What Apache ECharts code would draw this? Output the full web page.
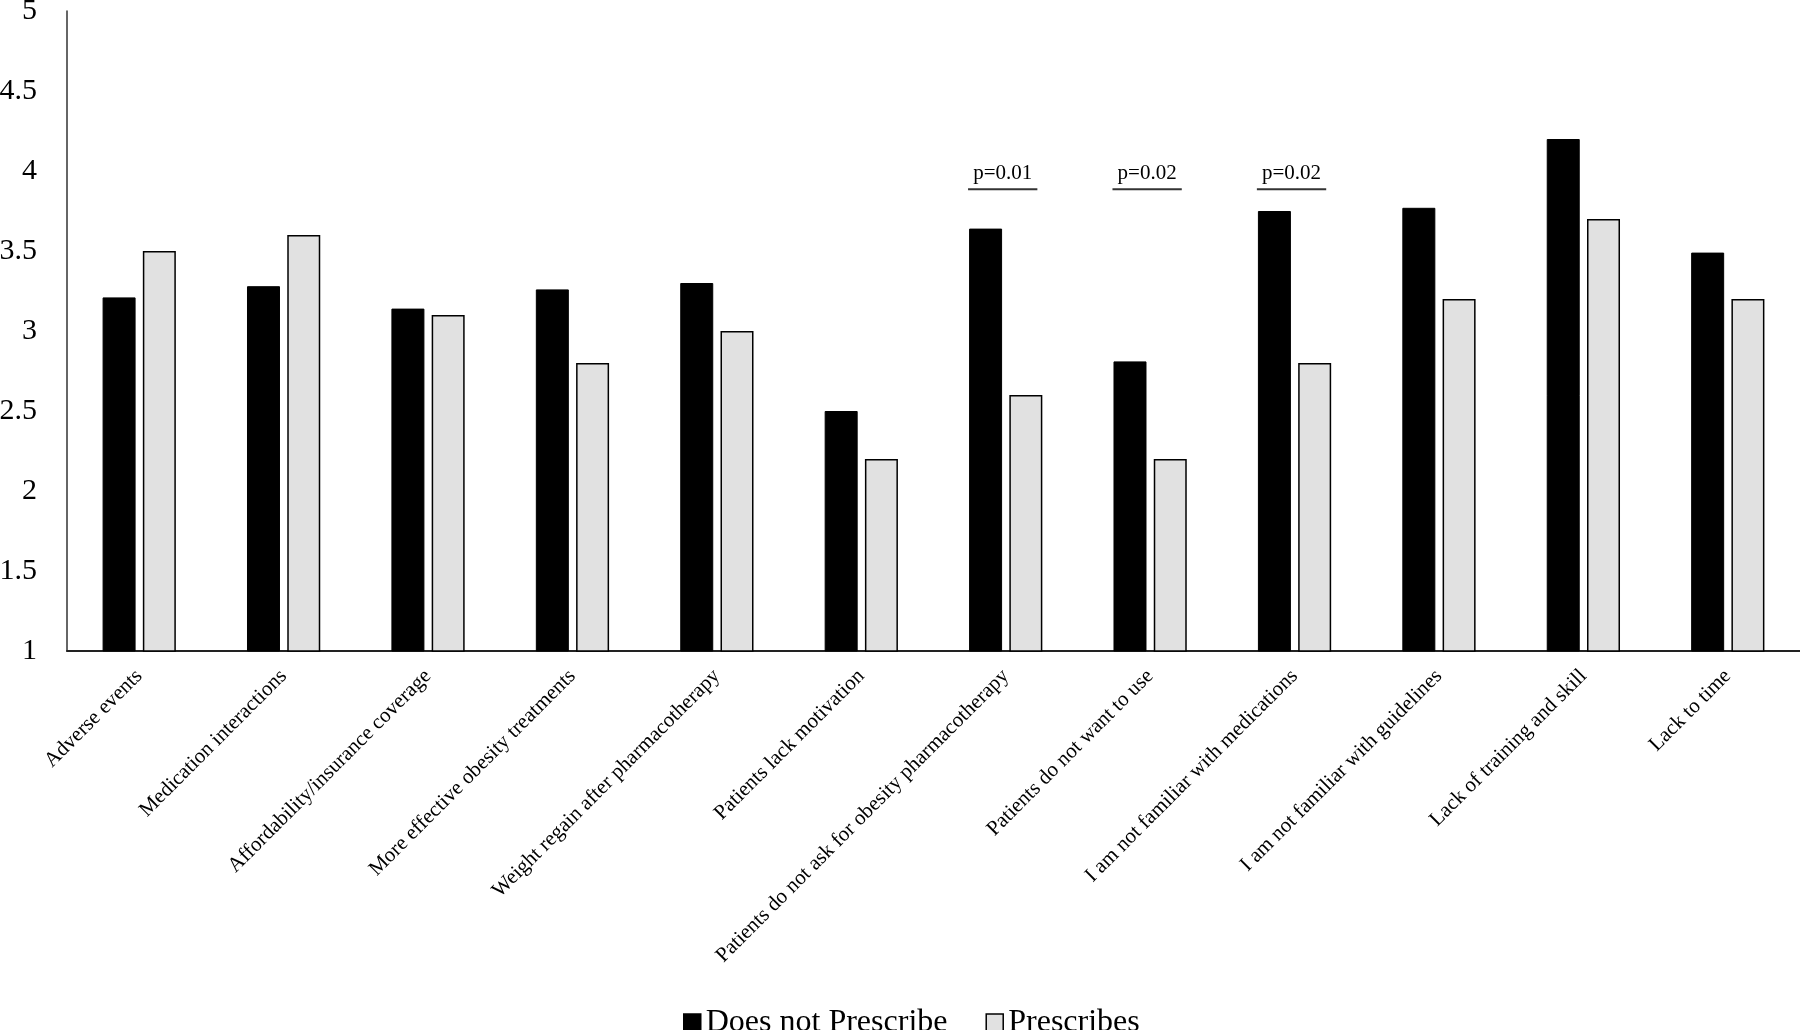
<!DOCTYPE html>
<html>
<head>
<meta charset="utf-8">
<script src="https://cdn.jsdelivr.net/npm/echarts@6/dist/echarts.min.js"></script>
<style>
html,body{margin:0;padding:0;background:#fff;}
#chart{width:1800px;height:1030px;}
</style>
</head>
<body>
<div id="chart"></div>
<script>
const categories = [
  'Adverse events',
  'Medication interactions',
  'Affordability/insurance coverage',
  'More effective obesity treatments',
  'Weight regain after pharmacotherapy',
  'Patients lack motivation',
  'Patients do not ask for obesity pharmacotherapy',
  'Patients do not want to use',
  'I am not familiar with medications',
  'I am not familiar with guidelines',
  'Lack of training and skill',
  'Lack to time'
];
const doesNotPrescribe = [3.21, 3.28, 3.14, 3.26, 3.30, 2.50, 3.64, 2.81, 3.75, 3.77, 4.20, 3.49];
const prescribes       = [3.50, 3.60, 3.10, 2.80, 3.00, 2.20, 2.60, 2.20, 2.80, 3.20, 3.70, 3.20];
const yTicks = [1, 1.5, 2, 2.5, 3, 3.5, 4, 4.5, 5];
const pValues = [
  [6, 3.886, 'p=0.01'],
  [7, 3.886, 'p=0.02'],
  [8, 3.886, 'p=0.02']
];

const FONT = '"Liberation Serif", "Times New Roman", serif';
const chart = echarts.init(document.getElementById('chart'), null, {renderer: 'canvas'});
chart.setOption({
  animation: false,
  backgroundColor: '#ffffff',
  textStyle: {fontFamily: FONT, color: '#000'},
  grid: {left: 67, right: 0, top: 11, bottom: 379, containLabel: false, outerBoundsMode: 'none'},
  legend: {
    left: 678, top: 1002,
    itemWidth: 17, itemHeight: 18, itemGap: 38,
    icon: 'rect',
    textStyle: {fontFamily: FONT, fontSize: 32, color: '#000', padding: [0, 0, 0, 0], lineHeight: 32},
    itemStyle: {borderColor: '#000', borderWidth: 1.5},
    data: ['Does not Prescribe', 'Prescribes']
  },
  xAxis: {
    type: 'category',
    data: categories,
    axisLine: {lineStyle: {color: '#222', width: 2}},
    axisTick: {show: false},
    axisLabel: {rotate: 45, interval: 0, margin: 22, fontFamily: FONT, fontSize: 21, color: '#000'}
  },
  yAxis: {
    type: 'value',
    min: 1, max: 5, interval: 0.5,
    splitLine: {show: false},
    axisLine: {show: true, lineStyle: {color: '#333', width: 1.5}},
    axisTick: {show: false},
    axisLabel: {
      margin: 30, fontFamily: FONT, fontSize: 30, color: '#000',
      formatter: v => yTicks.includes(v) ? String(v) : ''
    }
  },
  series: [
    {
      name: 'Does not Prescribe', type: 'bar', data: doesNotPrescribe,
      barWidth: 33, barGap: '22%',
      itemStyle: {color: '#000', borderColor: '#000', borderWidth: 1}
    },
    {
      name: 'Prescribes', type: 'bar', data: prescribes,
      barWidth: 33,
      itemStyle: {color: '#e1e1e1', borderColor: '#000', borderWidth: 1.5}
    },
    {
      type: 'custom', name: 'pvals', data: pValues,
      encode: {x: 0, y: 1},
      silent: true, z: 5,
      renderItem: function (params, api) {
        const c = api.coord([api.value(0), api.value(1)]);
        const bw = api.size([1, 0])[0];
        const half = bw * 0.24;
        const label = pValues[params.dataIndex][2];
        return {
          type: 'group',
          children: [
            {type: 'line', shape: {x1: c[0] - half - 3, y1: c[1], x2: c[0] + half - 3, y2: c[1]},
             style: {stroke: '#333', lineWidth: 2}},
            {type: 'text', style: {x: c[0] - 3, y: c[1] - 5, text: label, align: 'center', verticalAlign: 'bottom',
             font: '21px ' + FONT, fill: '#000'}}
          ]
        };
      }
    }
  ]
});
</script>
</body>
</html>
